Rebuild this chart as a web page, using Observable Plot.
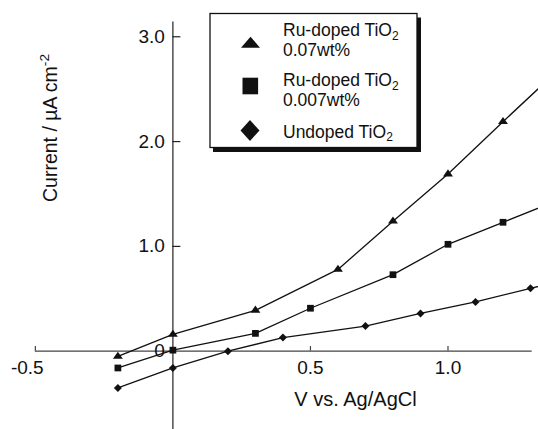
<!DOCTYPE html>
<html>
<head>
<meta charset="utf-8">
<script src="https://cdn.jsdelivr.net/npm/d3@7"></script>
<script src="https://cdn.jsdelivr.net/npm/@observablehq/plot@0.6"></script>
<style>
  html, body { margin: 0; padding: 0; background: #fff; }
  #chart { width: 538px; height: 429px; }
</style>
</head>
<body>
<div id="chart"></div>
<script>
// ---- data ----
const voltage07 = [-0.2, 0, 0.3, 0.6, 0.8, 1.0, 1.2, 1.4];
const current07 = [-0.05, 0.16, 0.39, 0.78, 1.24, 1.69, 2.19, 2.68];

const voltage007 = [-0.2, 0, 0.3, 0.5, 0.8, 1.0, 1.2, 1.4];
const current007 = [-0.16, 0.01, 0.17, 0.41, 0.73, 1.02, 1.23, 1.44];

const voltageUndoped = [-0.2, 0, 0.2, 0.4, 0.7, 0.9, 1.1, 1.3, 1.5];
const currentUndoped = [-0.35, -0.16, 0.0, 0.13, 0.24, 0.36, 0.47, 0.60, 0.73];

const seriesNames = ["Ru-doped TiO2 0.07wt%", "Ru-doped TiO2 0.007wt%", "Undoped TiO2"];
const legendLines = [["Ru-doped TiO", "0.07wt%"], ["Ru-doped TiO", "0.007wt%"], ["Undoped TiO"]];

const yTicks = [1, 2, 3];
const yTickLabels = ["0", "1.0", "2.0", "3.0"];
const yTickLabelValues = [0, 1, 2, 3];
const xTicks = [-0.5, 0.5, 1.0];
const xTickLabels = ["-0.5", "0.5", "1.0"];

const xTitle = "V vs. Ag/AgCl";
const yTitle = "Current / µA cm-2";

// ---- build rows ----
const rows = [
  ...voltage07.map((v, i) => ({series: seriesNames[0], v, c: current07[i]})),
  ...voltage007.map((v, i) => ({series: seriesNames[1], v, c: current007[i]})),
  ...voltageUndoped.map((v, i) => ({series: seriesNames[2], v, c: currentUndoped[i]}))
];
const rows07 = rows.filter(d => d.series === seriesNames[0]);
const rows007 = rows.filter(d => d.series === seriesNames[1]);
const rowsUn = rows.filter(d => d.series === seriesNames[2]);

const flatTriangle = {
  draw(context, size) {
    const s = Math.sqrt(size);
    const w = 1.75 * s, h = 1.25 * s;
    context.moveTo(0, -h * 2 / 3);
    context.lineTo(w / 2, h / 3);
    context.lineTo(-w / 2, h / 3);
    context.closePath();
  }
};

const font = "'Liberation Sans', Arial, Helvetica, sans-serif";

const chart = Plot.plot({
  width: 538,
  height: 429,
  marginTop: 0, marginRight: 0, marginBottom: 0, marginLeft: 0,
  x: {domain: [-0.6267, 1.329], axis: null},
  y: {domain: [-0.747, 3.346], axis: null},
  style: {fontFamily: font, fontSize: "19px", background: "white", color: "black", overflow: "visible"},
  marks: [
    // axes
    Plot.ruleX([0], {y1: -0.747, y2: 3.14, stroke: "#222", strokeWidth: 1.2}),
    Plot.ruleY([0], {x1: -0.5, x2: 1.306, stroke: "#444", strokeWidth: 1.2}),
    Plot.ruleY(yTicks, {x1: 0, x2: 0.029, stroke: "#222", strokeWidth: 1.2}),
    Plot.ruleX(xTicks, {y1: 0, y2: 0.045, stroke: "#444", strokeWidth: 1.2}),
    Plot.text(yTickLabelValues, {x: 0, y: d => d, text: (d, i) => yTickLabels[i], textAnchor: "end", dx: -8, fill: "#111"}),
    Plot.text(xTicks.filter(d => d < 0), {x: d => d, y: 0, text: d => xTickLabels[xTicks.indexOf(d)], textAnchor: "end", dx: 8.3, dy: 17, fill: "#111"}),
    Plot.text(xTicks.filter(d => d > 0), {x: d => d, y: 0, text: d => xTickLabels[xTicks.indexOf(d)], textAnchor: "middle", dy: 17, fill: "#111"}),
    Plot.text([xTitle], {frameAnchor: "bottom", text: d => d, dx: 86, dy: -24, fontSize: 20, fill: "#111"}),
    Plot.text([yTitle], {frameAnchor: "left", text: d => d, rotate: -90, dx: 50, dy: -13, fontSize: 19.5, fill: "#111"}),
    // series
    Plot.line(rows, {x: "v", y: "c", z: "series", stroke: "#111", strokeWidth: 1.3, clip: true}),
    Plot.dot(rows07, {x: "v", y: "c", symbol: flatTriangle, r: 3.2, fill: "#111", stroke: "none", clip: true}),
    Plot.dot(rows007, {x: "v", y: "c", symbol: "square", r: 3.8, fill: "#111", stroke: "none", clip: true}),
    Plot.dot(rowsUn, {x: "v", y: "c", symbol: "diamond2", r: 3.6, fill: "#111", stroke: "none", clip: true})
  ]
});

document.getElementById("chart").appendChild(chart);

// superscript in the y title
d3.select(chart).selectAll("text").each(function() {
  if (this.textContent === yTitle) {
    this.innerHTML = 'Current / µA cm<tspan dy="-0.55em" font-size="0.7em">-2</tspan>';
  }
});

// ---- legend box ----
const svg = d3.select(chart);
const lg = svg.append("g")
  .attr("font-family", font).attr("font-size", 17.5).attr("fill", "#111")
  .attr("text-anchor", "start");
lg.append("rect").attr("x", 213).attr("y", 17.5).attr("width", 208).attr("height", 134.5).attr("fill", "#111");
lg.append("rect").attr("x", 210).attr("y", 13.5).attr("width", 207).attr("height", 134).attr("fill", "white").attr("stroke", "#111").attr("stroke-width", 1.3);
lg.append("path").attr("d", "M250.5,36.7L260,47.7L241,47.7Z").attr("fill", "#111");
lg.append("rect").attr("x", 242.5).attr("y", 77.7).attr("width", 15.6).attr("height", 16.6).attr("fill", "#111");
lg.append("path").attr("d", "M250,120L259.5,130.5L250,141L240.5,130.5Z").attr("fill", "#111");

const baselines = [[36, 56], [86, 106], [137.5]];
legendLines.forEach((lines, k) => {
  lines.forEach((ln, j) => {
    const t = lg.append("text").attr("x", 283).attr("y", baselines[k][j]).style("text-anchor", "start").text(ln);
    if (j === 0) t.append("tspan").attr("dy", 3.5).attr("font-size", 12).text("2");
  });
});
</script>
</body>
</html>
